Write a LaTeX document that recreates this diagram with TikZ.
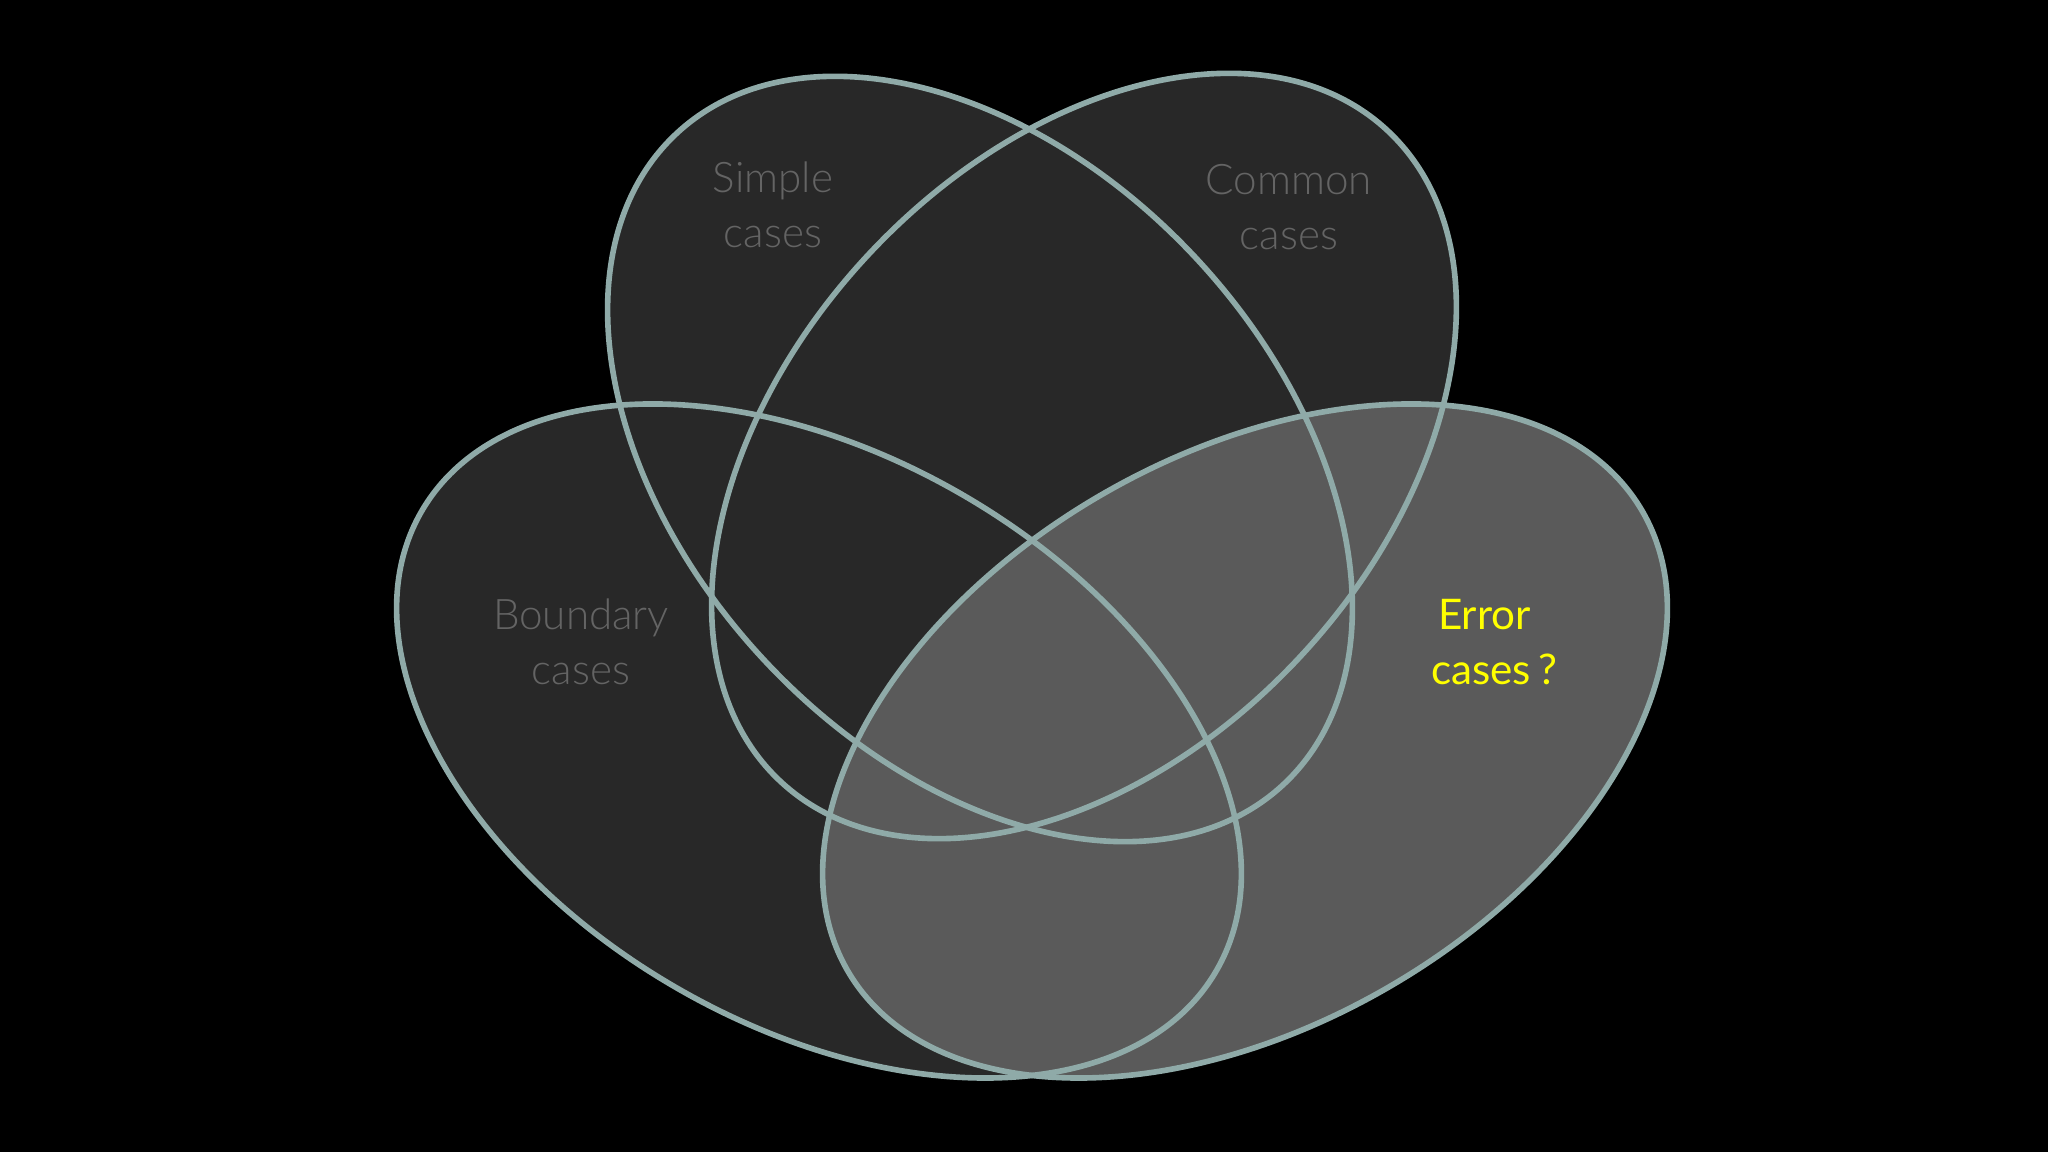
\documentclass[tikz,border=0pt]{standalone}
\usepackage{fontspec}
\setmainfont{Lato}
\newfontfamily\thinfont{Lato Light}
\usepackage{tikz}
\definecolor{rimcol}{RGB}{143,170,168}
\definecolor{setdark}{RGB}{40,40,40}
\definecolor{setlight}{RGB}{90,90,90}
\definecolor{labelgray}{RGB}{100,100,100}
\definecolor{askyellow}{RGB}{255,255,0}

\begin{document}
\begin{tikzpicture}[
    rim/.style={draw=rimcol, line width=1.6pt},
    setlabel/.style={text=labelgray, font=\thinfont\fontsize{12}{15.6}\selectfont, align=center},
    asklabel/.style={text=askyellow, font=\fontsize{12}{15.6}\selectfont, align=left}
]

% background
\fill[black] (0,0) rectangle (20.48,11.52);
\useasboundingbox (0,0) rectangle (20.48,11.52);

% the four sets, filled
\fill[setdark, shift={(9.80,6.93)}, rotate=-47] (0,0) ellipse [x radius=4.45, y radius=2.95];
\fill[setdark, shift={(10.84,6.96)}, rotate=47] (0,0) ellipse [x radius=4.45, y radius=2.95];
\fill[setdark, shift={(8.19,4.11)}, rotate=-30] (0,0) ellipse [x radius=4.59, y radius=2.85];
\fill[setlight, shift={(12.45,4.11)}, rotate=30] (0,0) ellipse [x radius=4.59, y radius=2.85];

% outlines on top
\draw[rim, shift={(9.80,6.93)}, rotate=-47] (0,0) ellipse [x radius=4.45, y radius=2.95];
\draw[rim, shift={(10.84,6.96)}, rotate=47] (0,0) ellipse [x radius=4.45, y radius=2.95];
\draw[rim, shift={(8.19,4.11)}, rotate=-30] (0,0) ellipse [x radius=4.59, y radius=2.85];
\draw[rim, shift={(12.45,4.11)}, rotate=30] (0,0) ellipse [x radius=4.59, y radius=2.85];

% labels
\node[setlabel] (simple) at (7.73, 9.47) {Simple\\cases};
\node[setlabel] (common) at (12.89, 9.45) {Common\\cases};
\node[setlabel] (boundary) at (5.81, 5.10) {Boundary\\cases};
\node[asklabel] (error) at (14.94, 5.10) {\,Error\\cases\,?};

\end{tikzpicture}
\end{document}
